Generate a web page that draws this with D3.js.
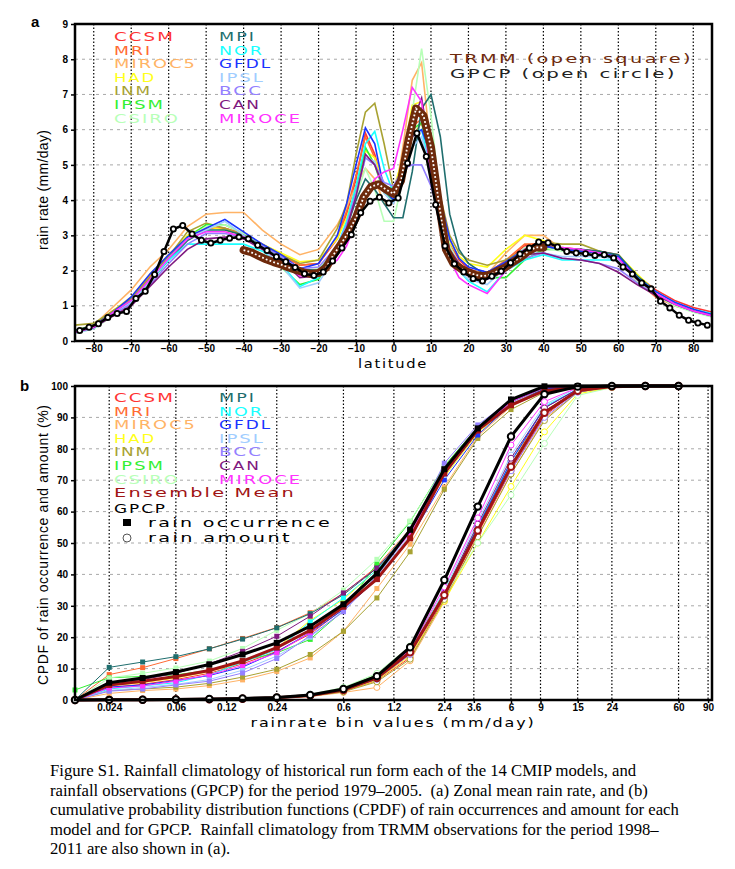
<!DOCTYPE html>
<html>
<head>
<meta charset="utf-8">
<script src="https://cdn.jsdelivr.net/npm/d3@7"></script>
<style>
body { margin: 0; background: #fff; }
</style>
</head>
<body>
<div id="chart"></div>
<script>
// ---------- data: panel a (zonal mean rain rate, mm/day) ----------
var modelNames = ["CCSM", "MRI", "MIROC5", "HAD", "INM", "IPSM", "CSIRO",
                  "MPI", "NOR", "GFDL", "IPSL", "BCC", "CAN", "MIROCE"];
var modelColors = ["#ff3333", "#ff6a33", "#ffb366", "#ffff1a", "#a8a232", "#33f033", "#b8ffb8",
                   "#1f6e6e", "#1affff", "#1a33ff", "#a0cdff", "#9480ff", "#801a80", "#ff33ff"];

var modelLat = [-85, -80, -75, -70, -65, -60, -55, -50, -45, -40, -35, -30, -25, -20, -15,
                -12.5, -10, -7.5, -5, -2.5, 0, 2.5, 5, 7.5, 10, 12.5, 15, 17.5,
                20, 25, 30, 35, 40, 45, 50, 55, 60, 65, 70, 75, 80, 85];

var rainCCSM   = [0.28,0.42,0.8,1.15,1.8,2.4,2.9,3.2,3.2,3.0,2.7,2.45,2.15,2.2,2.9, 3.6,4.6,5.9,5.3,4.3,4.0,4.9,6.2,6.5,5.2,3.9,2.8,2.3, 2.05,1.85,2.25,2.7,2.8,2.65,2.6,2.55,2.45,1.85,1.45,1.15,0.95,0.82];
var rainMRI    = [0.25,0.4,0.85,1.2,1.85,2.45,2.95,3.2,3.2,3.05,2.75,2.45,2.15,2.2,2.95, 3.7,4.7,5.8,5.2,4.4,4.1,5.0,6.1,6.3,5.1,3.8,2.7,2.2, 2.0,1.9,2.3,2.75,2.75,2.6,2.5,2.45,2.3,1.7,1.25,1.0,0.85,0.75];
var rainMIROC5 = [0.3,0.45,0.95,1.45,2.1,2.6,3.25,3.6,3.65,3.65,3.15,2.75,2.45,2.6,3.3, 3.8,4.4,4.9,4.6,3.9,3.9,5.5,7.4,7.9,5.4,3.7,2.6,2.2, 2.0,1.9,2.5,3.0,3.0,2.6,2.5,2.45,2.3,1.7,1.3,1.0,0.85,0.7];
var rainHAD    = [0.3,0.45,0.85,1.25,1.9,2.45,3.0,3.25,3.15,3.0,2.75,2.5,2.25,2.3,2.9, 3.5,4.3,5.4,5.2,4.4,4.3,5.2,6.7,6.8,5.3,3.9,2.8,2.4, 2.2,2.1,2.6,3.0,2.85,2.6,2.55,2.5,2.45,1.9,1.4,1.05,0.85,0.7];
var rainINM    = [0.45,0.5,0.85,1.2,1.8,2.4,3.1,3.35,3.2,3.0,2.75,2.45,2.2,2.3,3.2, 3.9,5.3,6.5,6.75,5.6,4.3,4.8,5.8,6.2,5.4,4.1,3.0,2.5, 2.3,2.15,2.3,2.6,2.8,2.75,2.75,2.55,2.4,1.85,1.4,1.05,0.85,0.7];
var rainIPSM   = [0.25,0.4,0.8,1.15,1.75,2.35,2.95,3.3,3.3,3.05,2.6,2.1,1.6,1.75,2.6, 3.3,4.3,5.5,5.0,4.2,4.0,4.9,6.0,6.2,5.0,3.7,2.6,2.2, 2.0,1.8,1.8,2.3,2.6,2.6,2.55,2.5,2.35,1.8,1.35,1.05,0.85,0.7];
var rainCSIRO  = [0.22,0.35,0.7,1.05,1.65,2.3,2.9,3.25,3.3,3.05,2.7,2.35,2.0,2.05,2.7, 3.3,4.1,4.9,4.3,3.4,3.4,4.6,6.5,8.3,6.4,4.0,2.7,2.2, 1.95,1.85,2.2,2.65,2.65,2.55,2.5,2.45,2.3,1.7,1.3,1.0,0.82,0.68];
var rainMPI    = [0.3,0.45,0.8,1.1,1.7,2.3,2.85,3.15,3.15,3.0,2.7,2.4,2.05,2.0,2.6, 3.2,4.0,4.6,4.3,3.9,3.5,3.5,4.8,6.6,7.0,5.8,3.6,2.6, 2.2,1.85,2.1,2.55,2.7,2.6,2.6,2.55,2.45,1.85,1.4,1.05,0.85,0.72];
var rainNOR    = [0.28,0.4,0.75,1.1,1.7,2.3,2.75,2.75,2.75,2.75,2.55,2.2,1.55,1.8,2.7, 3.4,4.4,5.6,5.95,4.9,4.2,5.0,5.9,6.0,4.8,3.5,2.5,2.0, 1.7,1.4,2.0,2.3,2.45,2.3,2.3,2.3,2.3,1.8,1.4,1.1,0.9,0.78];
var rainGFDL   = [0.25,0.4,0.8,1.25,1.9,2.45,2.95,3.2,3.45,3.1,2.75,2.45,2.05,2.2,3.0, 3.9,5.0,6.05,5.6,4.3,4.0,4.8,5.8,6.0,5.3,4.0,2.9,2.35, 2.1,1.95,2.25,2.6,2.7,2.6,2.55,2.5,2.4,1.8,1.4,1.1,0.9,0.75];
var rainIPSL   = [0.22,0.35,0.75,1.1,1.7,2.35,2.9,3.15,3.4,3.0,2.6,2.15,1.5,1.65,2.5, 3.2,4.2,5.2,5.1,4.2,3.9,4.6,5.5,5.8,4.8,3.6,2.5,2.0, 1.75,1.6,2.1,2.5,2.5,2.4,2.4,2.4,2.3,1.75,1.35,1.05,0.85,0.7];
var rainBCC    = [0.25,0.38,0.75,1.05,1.6,2.2,2.75,3.05,3.05,2.95,2.7,2.4,2.05,2.1,2.7, 3.3,4.2,5.2,5.0,4.5,4.4,4.9,5.0,5.0,4.4,3.4,2.5,2.1, 1.9,1.75,2.0,2.35,2.5,2.35,2.3,2.2,2.05,1.65,1.3,1.05,0.85,0.72];
var rainCAN    = [0.25,0.38,0.7,1.0,1.55,2.1,2.6,2.9,2.95,2.9,2.6,2.3,1.8,1.85,2.6, 3.2,4.1,5.3,5.0,4.3,4.1,5.0,6.2,6.9,5.3,3.8,2.6,2.2, 2.0,1.8,2.1,2.45,2.5,2.35,2.3,2.2,1.95,1.6,1.3,1.05,0.85,0.72];
var rainMIROCE = [0.25,0.4,0.8,1.15,1.75,2.35,2.9,3.1,3.1,2.95,2.65,2.3,1.85,1.9,2.3, 2.7,3.4,4.1,4.6,4.8,4.9,6.0,7.2,6.8,4.6,3.2,2.3,1.8, 1.6,1.35,2.0,2.6,2.8,2.65,2.6,2.5,2.35,1.75,1.35,1.05,0.85,0.72];
var modelRain = [rainCCSM, rainMRI, rainMIROC5, rainHAD, rainINM, rainIPSM, rainCSIRO,
                 rainMPI, rainNOR, rainGFDL, rainIPSL, rainBCC, rainCAN, rainMIROCE];

// GPCP on the 2.5 degree grid, centres -83.75 ... 83.75
var gpcpLat = d3.range(-83.75, 84, 2.5);
var gpcpRain = [0.30,0.39,0.49,0.67,0.78,0.84,1.21,1.41,1.89,2.54,
                3.18,3.28,3.04,2.86,2.78,2.86,2.92,2.95,2.90,2.72,
                2.57,2.39,2.25,2.09,1.91,1.86,1.96,2.27,2.64,3.02,
                3.64,3.97,4.08,3.92,4.06,5.05,5.90,5.24,3.87,2.70,
                2.19,1.96,1.77,1.70,1.84,1.98,2.22,2.47,2.64,2.81,
                2.79,2.67,2.54,2.50,2.48,2.43,2.45,2.36,2.10,1.90,
                1.65,1.48,1.13,0.94,0.73,0.59,0.51,0.45];

// TRMM, 40S-40N
var trmmLat = d3.range(-40, 41, 2);
var trmmRain = [2.58,2.52,2.42,2.32,2.24,2.17,2.09,2.02,1.95,1.90,
                1.93,2.08,2.45,2.75,3.10,3.50,4.08,4.38,4.45,4.30,
                4.18,4.55,5.70,6.60,6.40,5.50,4.00,2.60,2.20,2.05,
                1.95,1.87,1.84,1.89,2.00,2.10,2.25,2.38,2.55,2.66,2.65];

var latTicks = [-80, -70, -60, -50, -40, -30, -20, -10, 0, 10, 20, 30, 40, 50, 60, 70, 80];
var rateTicks = [0, 1, 2, 3, 4, 5, 6, 7, 8, 9];

// ---------- data: panel b (CPDF, %) ----------
var binValues = [0.015, 0.024, 0.038, 0.06, 0.095, 0.15, 0.24, 0.38, 0.6, 0.95,
                 1.5, 2.4, 3.8, 6, 9.5, 15, 24, 38, 60];
var binTicks = [0.024, 0.06, 0.12, 0.24, 0.6, 1.2, 2.4, 3.6, 6, 9, 15, 24, 60, 90];
var pctTicks = [0, 10, 20, 30, 40, 50, 60, 70, 80, 90, 100];

var occCCSM   = [0,4.0,5.0,6.5,8.5,11.5,15.5,21,29,38.4,51.5,72,86,94.5,99,100,100,100,100];
var occMRI    = [0,8.1,10.3,13.2,16.3,19.6,23.1,27.8,33.9,42.5,54.5,72,85.5,94.5,99,100,100,100,100];
var occMIROC5 = [0,2.1,3.0,3.5,4.6,6.4,9.1,13.4,21.9,35.5,49.6,67.8,84,93.5,98.5,99.5,100,100,100];
var occHAD    = [0,4.5,5.5,7.0,9.0,12.0,16.5,25.4,32,41.5,53,71,85,94,99,100,100,100,100];
var occINM    = [0,3.0,3.5,4.1,5.3,7.3,9.8,14.5,21.9,32.5,47.2,67.1,83.3,92.5,98,99.5,100,100,100];
var occIPSM   = [3.2,7.1,7.5,8.0,9.5,12.5,15.0,19.3,28.5,43.5,56.8,74.5,87,95.5,99.5,100,100,100,100];
var occCSIRO  = [0,7.0,8.5,10.2,12.4,16.4,22.2,27.5,35,44.8,57,74,87,95.5,99.5,100,100,100,100];
var occMPI    = [0,10.4,12.1,13.8,16.3,19.4,23,27.5,33.5,42,54,72.5,86,95,99,100,100,100,100];
var occNOR    = [0,3.5,4.5,5.5,8.0,12.0,16.0,24.9,32.5,41.4,54.5,73,86,95,99.5,100,100,100,100];
var occGFDL   = [0,4.1,4.8,6.2,7.8,10.5,15.3,21.5,28.8,38.4,51.5,70.1,84.4,94,99,100,100,100,100];
var occIPSL   = [0,3.0,4.0,5.0,6.5,9.5,14.0,20.0,28.5,39.5,52.5,71.5,85.5,94.5,99.5,100,100,100,100];
var occBCC    = [0,2.8,3.5,4.8,6.0,8.6,13.2,20.5,28.1,39.5,53.5,75.4,87.6,95.5,99.5,100,100,100,100];
var occCAN    = [0,5.5,6.5,8.5,11.5,15.5,20.3,26.7,34.1,42,53.5,72,85.5,95,99.5,100,100,100,100];
var occMIROCE = [0,3.8,4.5,6.0,8.0,11.0,15.0,21.5,30.0,40.5,53.0,72.5,86,95,99.5,100,100,100,100];
var modelOcc = [occCCSM, occMRI, occMIROC5, occHAD, occINM, occIPSM, occCSIRO,
                occMPI, occNOR, occGFDL, occIPSL, occBCC, occCAN, occMIROCE];

var amtCCSM   = [0,0.05,0.1,0.15,0.25,0.4,0.7,1.3,2.8,6.2,13.5,32.5,53,73,90.5,98.5,100,100,100];
var amtMRI    = [0,0.05,0.1,0.15,0.3,0.5,0.8,1.5,3.0,6.5,14.5,33,55,76,92,98.5,100,100,100];
var amtMIROC5 = [0,0.05,0.1,0.15,0.2,0.35,0.6,1.1,2.4,4.0,12.5,31.3,52,72,89.5,98,100,100,100];
var amtHAD    = [0,0.05,0.1,0.15,0.25,0.4,0.7,1.3,2.9,6.3,14,31.5,50,68,85.4,97.5,99.5,100,100];
var amtINM    = [0,0.05,0.1,0.15,0.2,0.35,0.6,1.2,2.6,5.8,13,32,52,72,89,98,99.8,100,100];
var amtIPSM   = [0,0.05,0.1,0.2,0.3,0.5,0.9,1.7,3.8,8.0,16.5,34.5,55,75,92,98.5,100,100,100];
var amtCSIRO  = [0,0.05,0.1,0.2,0.3,0.5,0.9,1.8,4.0,8.5,17.2,33,50,65.3,81.7,97,99.5,100,100];
var amtMPI    = [0,0.05,0.1,0.15,0.25,0.4,0.7,1.4,3.2,7.2,15.5,34,55,75,91,98.5,100,100,100];
var amtNOR    = [0,0.05,0.1,0.15,0.25,0.4,0.7,1.4,3.2,7.0,15,34,55.5,76,93.5,99,100,100,100];
var amtGFDL   = [0,0.05,0.1,0.15,0.25,0.4,0.7,1.4,3.1,6.8,14.8,33.5,55,76,93,99,100,100,100];
var amtIPSL   = [0,0.05,0.1,0.15,0.25,0.4,0.7,1.4,3.2,7.0,15.5,35,57,78,94,99.5,100,100,100];
var amtBCC    = [0,0.05,0.1,0.15,0.25,0.4,0.7,1.3,3.0,6.6,14.5,33,54,73,90,98,100,100,100];
var amtCAN    = [0,0.05,0.1,0.15,0.25,0.4,0.7,1.5,3.3,7.2,15.5,34,56,77,93,99,100,100,100];
var amtMIROCE = [0,0.05,0.1,0.15,0.3,0.5,0.8,1.6,3.4,7.5,16,36,58,81.2,95,99.5,100,100,100];
var modelAmt = [amtCCSM, amtMRI, amtMIROC5, amtHAD, amtINM, amtIPSM, amtCSIRO,
                amtMPI, amtNOR, amtGFDL, amtIPSL, amtBCC, amtCAN, amtMIROCE];

var ensOcc = [0,4.8,6.0,7.5,9.4,12.4,16.7,22.2,29.7,38.5,51.5,72.2,86.0,93.9,98.5,99.5,100,100,100];
var ensAmt = [0,0.05,0.1,0.15,0.25,0.4,0.7,1.4,3.2,7.0,15.2,33.4,54,74.3,91.5,98.5,99.8,100,100];
var gpcpOcc = [0,5.5,7.0,8.9,11.3,14.5,18.2,23.5,30.5,40.3,54.2,73.5,86.5,95.7,99.9,100,100,100,100];
var gpcpAmt = [0,0.05,0.1,0.15,0.3,0.5,0.8,1.6,3.5,7.6,16.8,38.2,61.6,83.9,97.4,99.8,100,100,100];

var ensColor = "#a01414";
var trmmColor = "#6e2a0c";

// ---------- drawing ----------
var svg = d3.select("#chart").append("svg")
    .attr("width", 735)
    .attr("height", 869);

var grads = "'DejaVu Sans', Verdana, sans-serif";
var plain = "'Liberation Sans', Arial, sans-serif";

// wide, stroke-like labels as in the GrADS output
function label(x, y, txt, color, len, anchor, size) {
    var t = svg.append("text")
        .attr("x", x)
        .attr("y", y)
        .attr("font-family", grads)
        .attr("font-size", size || 13)
        .attr("letter-spacing", 1.5)
        .attr("fill", color)
        .attr("text-anchor", anchor || "start")
        .text(txt);
    if (len) t.attr("textLength", len).attr("lengthAdjust", "spacingAndGlyphs");
    return t;
}

function frame(x, y, left, top, right, bottom, xTicks, yTicks, xFmt) {
    // grid
    svg.append("g").selectAll("line").data(yTicks.slice(1, -1)).enter().append("line")
        .attr("x1", left).attr("x2", right)
        .attr("y1", function(d) { return y(d); }).attr("y2", function(d) { return y(d); })
        .attr("stroke", "#a8a8a8").attr("stroke-width", 1).attr("stroke-dasharray", "3,4");
    svg.append("g").selectAll("line").data(xTicks).enter().append("line")
        .attr("x1", function(d) { return x(d); }).attr("x2", function(d) { return x(d); })
        .attr("y1", top).attr("y2", bottom)
        .attr("stroke", "#000").attr("stroke-width", 1.2).attr("stroke-dasharray", "1.5,2");

    var ax = svg.append("g").attr("transform", "translate(0," + bottom + ")")
        .call(d3.axisBottom(x).tickValues(xTicks).tickFormat(xFmt)
            .tickSize(3).tickPadding(1).tickSizeOuter(0));
    var ay = svg.append("g").attr("transform", "translate(" + left + ",0)")
        .call(d3.axisLeft(y).tickValues(yTicks).tickFormat(d3.format("d"))
            .tickSize(4).tickPadding(3).tickSizeOuter(0));
    [ax, ay].forEach(function(a) {
        a.select(".domain").remove();
        a.selectAll("line").attr("stroke-width", 1.5);
        a.selectAll("text").attr("font-family", plain).attr("font-weight", "bold")
            .attr("font-size", 10).attr("fill", "#000");
    });
}

function box(left, top, right, bottom) {
    svg.append("rect")
        .attr("x", left).attr("y", top)
        .attr("width", right - left).attr("height", bottom - top)
        .attr("fill", "none").attr("stroke", "#000").attr("stroke-width", 2.5);
}

// ===== panel a =====
var xa = d3.scaleLinear().domain([-85, 85]).range([75, 712]);
var ya = d3.scaleLinear().domain([0, 9]).range([341, 24]);

frame(xa, ya, 75, 24, 712, 341, latTicks, rateTicks, d3.format("d"));

svg.append("clipPath").attr("id", "clipA").append("rect")
    .attr("x", 75).attr("y", 24).attr("width", 637).attr("height", 317);
var gA = svg.append("g").attr("clip-path", "url(#clipA)");

var lineA = d3.line()
    .x(function(d) { return xa(d[0]); })
    .y(function(d) { return ya(d[1]); });

modelRain.forEach(function(vals, i) {
    gA.append("path")
        .datum(d3.zip(modelLat, vals))
        .attr("d", lineA)
        .attr("fill", "none")
        .attr("stroke", modelColors[i])
        .attr("stroke-width", 1.6);
});

var trmm = d3.zip(trmmLat, trmmRain);
gA.append("path").datum(trmm).attr("d", lineA)
    .attr("fill", "none").attr("stroke", trmmColor).attr("stroke-width", 8)
    .attr("stroke-linejoin", "round").attr("stroke-linecap", "round");
gA.append("path").datum(trmm).attr("d", lineA)
    .attr("fill", "none").attr("stroke", "#fff").attr("stroke-width", 1.8)
    .attr("stroke-dasharray", "1.8,2.2");

var gpcpA = d3.zip(gpcpLat, gpcpRain);
gA.append("path").datum(gpcpA).attr("d", lineA)
    .attr("fill", "none").attr("stroke", "#000").attr("stroke-width", 2.5);
gA.selectAll("circle.gp").data(gpcpA).enter().append("circle")
    .attr("cx", function(d) { return xa(d[0]); })
    .attr("cy", function(d) { return ya(d[1]); })
    .attr("r", 2.6)
    .attr("fill", "#fff").attr("stroke", "#000").attr("stroke-width", 1.8);

box(75, 24, 712, 341);

// legend a
var legA1 = [61, 38, 83, 42, 38, 51, 66];
var legA2 = [37, 45, 53, 46, 44, 42, 83];
modelNames.forEach(function(n, i) {
    var col = i < 7 ? 0 : 1, row = i % 7;
    label(col ? 219 : 114, 41 + row * 13.6, n, modelColors[i], col ? legA2[row] : legA1[row]);
});
label(450, 63, "TRMM (open square)", trmmColor, 243, "start", 12);
label(450, 78, "GPCP (open circle)", "#222", 227, "start", 12);

svg.append("text").attr("x", 31).attr("y", 27)
    .attr("font-family", plain).attr("font-weight", "bold").attr("font-size", 15).text("a");
label(393, 368, "latitude", "#000", 70, "middle");
svg.append("text")
    .attr("transform", "translate(48,190) rotate(-90)")
    .attr("font-family", plain).attr("font-size", 14).attr("text-anchor", "middle")
    .attr("textLength", 120).attr("lengthAdjust", "spacing")
    .text("rain rate (mm/day)");

// ===== panel b =====
var xb = d3.scaleLog().domain([0.015, 95]).range([75, 712]);
var yb = d3.scaleLinear().domain([0, 100]).range([700, 386]);

frame(xb, yb, 75, 386, 712, 700, binTicks, pctTicks, function(d) { return String(d); });

var lineB = d3.line()
    .x(function(d) { return xb(d[0]); })
    .y(function(d) { return yb(d[1]); });

function cpdf(vals, color, width, sq, r, cw, kind) {
    var pts = d3.zip(binValues, vals);
    svg.append("path").datum(pts).attr("d", lineB)
        .attr("fill", "none").attr("stroke", color).attr("stroke-width", width);
    if (kind === "sq") {
        svg.append("g").selectAll("rect").data(pts).enter().append("rect")
            .attr("x", function(d) { return xb(d[0]) - sq / 2; })
            .attr("y", function(d) { return yb(d[1]) - sq / 2; })
            .attr("width", sq).attr("height", sq)
            .attr("fill", color);
    } else {
        svg.append("g").selectAll("circle").data(pts).enter().append("circle")
            .attr("cx", function(d) { return xb(d[0]); })
            .attr("cy", function(d) { return yb(d[1]); })
            .attr("r", r)
            .attr("fill", "#fff").attr("stroke", color).attr("stroke-width", cw);
    }
}

modelOcc.forEach(function(vals, i) { cpdf(vals, modelColors[i], 1, 5, 0, 0, "sq"); });
modelAmt.forEach(function(vals, i) { cpdf(vals, modelColors[i], 1, 0, 3, 1, "ci"); });
cpdf(ensOcc, ensColor, 3, 6, 0, 0, "sq");
cpdf(ensAmt, ensColor, 3, 0, 3.2, 2, "ci");
cpdf(gpcpOcc, "#000", 3, 6, 0, 0, "sq");
cpdf(gpcpAmt, "#000", 3, 0, 3.2, 2, "ci");

box(75, 386, 712, 700);

// legend b
modelNames.forEach(function(n, i) {
    var col = i < 7 ? 0 : 1, row = i % 7;
    label(col ? 219 : 114, 402 + row * 13.6, n, modelColors[i], col ? legA2[row] : legA1[row]);
});
label(114, 497, "Ensemble Mean", ensColor, 182);
label(114, 513, "GPCP", "#000", 53);
svg.append("rect").attr("x", 123).attr("y", 519).attr("width", 8).attr("height", 7).attr("fill", "#000");
label(148, 527, "rain occurrence", "#000", 184, "start", 12);
svg.append("circle").attr("cx", 127).attr("cy", 538).attr("r", 4)
    .attr("fill", "none").attr("stroke", "#555").attr("stroke-width", 1);
label(148, 542, "rain amount", "#000", 144, "start", 12);

svg.append("text").attr("x", 20).attr("y", 391)
    .attr("font-family", plain).attr("font-weight", "bold").attr("font-size", 15).text("b");
label(393, 727, "rainrate bin values (mm/day)", "#000", 285, "middle");
svg.append("text")
    .attr("transform", "translate(48,545) rotate(-90)")
    .attr("font-family", plain).attr("font-size", 14).attr("text-anchor", "middle")
    .attr("textLength", 280).attr("lengthAdjust", "spacing")
    .text("CPDF of rain occurrence and amount (%)");

// ===== caption =====
var captionLines = [
    "Figure S1. Rainfall climatology of historical run form each of the 14 CMIP models, and",
    "rainfall observations (GPCP) for the period 1979\u20132005.  (a) Zonal mean rain rate, and (b)",
    "cumulative probability distribution functions (CPDF) of rain occurrences and amount for each",
    "model and for GPCP.  Rainfall climatology from TRMM observations for the period 1998\u2013",
    "2011 are also shown in (a)."
];
svg.append("g").selectAll("text").data(captionLines).enter().append("text")
    .attr("x", 50)
    .attr("y", function(d, i) { return 776 + i * 19.6; })
    .attr("font-family", "'Liberation Serif', 'Times New Roman', serif")
    .attr("font-size", 16.7)
    .attr("fill", "#000")
    .style("white-space", "pre")
    .text(function(d) { return d; });
</script>
</body>
</html>
